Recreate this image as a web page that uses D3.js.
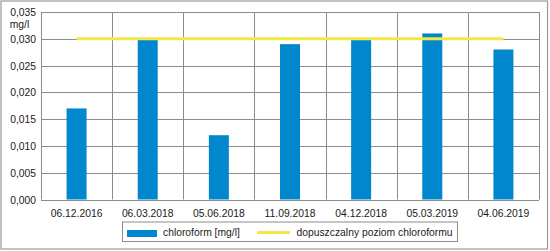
<!DOCTYPE html>
<html><head><meta charset="utf-8">
<script src="https://cdn.jsdelivr.net/npm/d3@7"></script>
<style>body{margin:0;background:#fff}svg{display:block}</style>
</head><body>
<script>
const categories = ["06.12.2016","06.03.2018","05.06.2018","11.09.2018","04.12.2018","05.03.2019","04.06.2019"];
const chloroform = [0.017, 0.0298, 0.012, 0.029, 0.0298, 0.031, 0.028];
const limitValue = [0.030, 0.030, 0.030, 0.030, 0.030, 0.030, 0.030];
const yTicks = [0, 0.005, 0.010, 0.015, 0.020, 0.025, 0.030, 0.035];
const seriesNames = ["chloroform [mg/l]", "dopuszczalny poziom chloroformu"];
const unitLabel = "mg/l";

const W = 550, H = 251;
const font = "'Liberation Sans',Arial,sans-serif";
const FS = 11, SX = 0.94, TXT = "#1a1a1a";
const svg = d3.select("body").append("svg").attr("width", W).attr("height", H);

function label(sel, anchor) {
  return sel.attr("text-anchor", anchor).attr("font-family", font)
    .attr("font-size", FS).attr("fill", TXT);
}

svg.append("rect").attr("x",1).attr("y",1).attr("width",546.5).attr("height",248)
  .attr("fill","#fff").attr("stroke","#9a9a9a").attr("stroke-width",1.2);

const L = 41, R = 539, T = 12, B = 199.5;
const x = d3.scaleBand().domain(categories).range([L, R]);
const y = d3.scaleLinear().domain([0, 0.035]).range([B, T]);

// grid
const g = svg.append("g");
g.selectAll("line.h").data(yTicks).join("line")
  .attr("x1", L).attr("x2", R).attr("y1", d => Math.round(y(d))+0.5).attr("y2", d => Math.round(y(d))+0.5)
  .attr("stroke", "#8c8c8c").attr("stroke-width", 1);
const vlines = categories.map(c => x(c)).concat([R]);
g.selectAll("line.v").data(vlines).join("line")
  .attr("x1", d => Math.round(d)+0.5).attr("x2", d => Math.round(d)+0.5).attr("y1", T).attr("y2", B)
  .attr("stroke", "#8c8c8c").attr("stroke-width", 1);

// bars
const bw = 20;
svg.append("g").selectAll("rect").data(chloroform).join("rect")
  .attr("x", (d,i) => x(categories[i]) + x.bandwidth()/2 - bw/2)
  .attr("width", bw)
  .attr("y", d => y(d))
  .attr("height", d => y(0) - y(d))
  .attr("fill", "#0087cd");

// limit line
const line = d3.line().x((d,i) => x(categories[i]) + x.bandwidth()/2).y(d => y(d));
svg.append("path").datum(limitValue).attr("d", line)
  .attr("fill","none").attr("stroke","#f2e744").attr("stroke-width",3);

// y axis labels
const fmt = d => d.toFixed(3).replace(".", ",");
label(svg.append("g").selectAll("text").data(yTicks).join("text"), "end")
  .attr("transform", d => `translate(36,${y(d) + 4}) scale(${SX},1)`)
  .text(fmt);
label(svg.append("text"), "middle").attr("transform", `translate(19.5,28) scale(${SX},1)`).text(unitLabel);

// x labels
label(svg.append("g").selectAll("text").data(categories).join("text"), "middle")
  .attr("transform", d => `translate(${x(d) + x.bandwidth()/2},217.3) scale(${SX},1)`)
  .text(d => d);

// legend
const lg = svg.append("g");
lg.append("rect").attr("x",122.5).attr("y",222).attr("width",335).attr("height",19.5)
  .attr("fill","#fff").attr("stroke","#8c8c8c").attr("stroke-width",1);
lg.append("rect").attr("x",127).attr("y",230).attr("width",30).attr("height",7).attr("fill","#0087cd");
label(lg.append("text"), "start").attr("transform", `translate(163,236) scale(${SX},1)`).text(seriesNames[0]);
lg.append("line").attr("x1",257).attr("x2",290).attr("y1",232.5).attr("y2",232.5).attr("stroke","#f2e744").attr("stroke-width",3);
label(lg.append("text"), "start").attr("transform", `translate(296.5,236) scale(${SX},1)`).text(seriesNames[1]);
</script>
</body></html>
